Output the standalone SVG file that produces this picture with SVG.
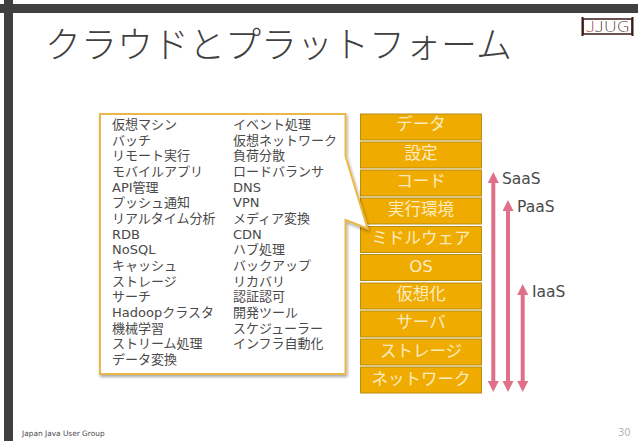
<svg xmlns="http://www.w3.org/2000/svg" width="638" height="442" viewBox="0 0 638 442">
<style>
text{font-family:"DejaVu Sans","Noto Sans CJK JP",sans-serif;fill:#4a4a4a}
.title{font-size:36px;font-family:"Noto Sans CJK JP",sans-serif;font-weight:300;fill:#404040}
.li{font-size:13px}
.box rect{fill:#EFAB00;stroke:#B98C12;stroke-width:1}
.box text{font-size:16.5px;fill:#FCEBC0;text-anchor:middle}
.lab{font-size:15.5px}
.arr{stroke:#E0708A;stroke-width:4;fill:none;marker-start:url(#h);marker-end:url(#h)}
</style>
<defs>
<marker id="h" viewBox="0 0 11 11" refX="1" refY="5.5" markerUnits="userSpaceOnUse" markerWidth="11" markerHeight="11" orient="auto-start-reverse"><path d="M0 0L11 5.5L0 11Z" fill="#E0708A"/></marker>
<filter id="s" x="-5%" y="-5%" width="112%" height="112%"><feDropShadow dx="1" dy="2" stdDeviation="1.500" flood-color="#000" flood-opacity="0.35"/></filter>
</defs>
<rect width="638" height="442" fill="#fff"/>
<g id="frame" fill="#404040"><rect x="0" y="4" width="638" height="9"/><rect x="4" y="0" width="9" height="441"/></g>
<text class="title" x="45" y="58">クラウドとプラットフォーム</text>
<g id="logo"><rect x="583" y="19" width="49" height="15" fill="none" stroke="#3a1a14" stroke-width="1.500"/><path d="M582.500 17V36M632.500 17V36" stroke="#3a1a14" stroke-width="2"/><text x="585.500" y="31.500" font-size="14" textLength="44" lengthAdjust="spacingAndGlyphs" style="fill:#3a1a14;font-family:'Noto Sans CJK JP',sans-serif;font-weight:100"><tspan style="fill:#a03030">J</tspan>JUG</text></g>
<g id="n-data" class="box"><rect x="360.500" y="114" width="121" height="26"/><text x="421" y="130">データ</text></g>
<g id="n-config" class="box"><rect x="360.500" y="142" width="121" height="26"/><text x="421" y="158.500">設定</text></g>
<g id="n-code" class="box"><rect x="360.500" y="170" width="121" height="26"/><text x="421" y="186.500">コード</text></g>
<g id="n-runtime" class="box"><rect x="360.500" y="198" width="121" height="26"/><text x="421" y="214.500">実行環境</text></g>
<g id="n-middleware" class="box"><rect x="360.500" y="226.500" width="121" height="26"/><text x="421" y="243.500">ミドルウェア</text></g>
<g id="n-os" class="box"><rect x="360.500" y="254.500" width="121" height="26"/><text x="421" y="272">OS</text></g>
<g id="n-virt" class="box"><rect x="360.500" y="283" width="121" height="26"/><text x="421" y="299.500">仮想化</text></g>
<g id="n-server" class="box"><rect x="360.500" y="311" width="121" height="26"/><text x="421" y="328">サーバ</text></g>
<g id="n-storage" class="box"><rect x="360.500" y="339" width="121" height="26"/><text x="421" y="356.500">ストレージ</text></g>
<g id="n-network" class="box"><rect x="360.500" y="367" width="121" height="26"/><text x="421" y="385">ネットワーク</text></g>
<g id="callout">
<path d="M100 114H345.500V156L367.500 228.500L345.500 220V374H100Z" fill="#fff" stroke="#E9B84A" stroke-width="2" filter="url(#s)"/>
<g class="li">
<text x="112" y="129">仮想マシン</text>
<text x="112" y="144.700">バッチ</text>
<text x="112" y="160.300">リモート実行</text>
<text x="112" y="176">モバイルアプリ</text>
<text x="112" y="191.700">API管理</text>
<text x="112" y="207.300">プッシュ通知</text>
<text x="112" y="223">リアルタイム分析</text>
<text x="112" y="238.700">RDB</text>
<text x="112" y="254.300">NoSQL</text>
<text x="112" y="270">キャッシュ</text>
<text x="112" y="285.700">ストレージ</text>
<text x="112" y="301.300">サーチ</text>
<text x="112" y="317">Hadoopクラスタ</text>
<text x="112" y="332.700">機械学習</text>
<text x="112" y="348.300">ストリーム処理</text>
<text x="112" y="364">データ変換</text>
<text x="233" y="129">イベント処理</text>
<text x="233" y="144.700">仮想ネットワーク</text>
<text x="233" y="160.300">負荷分散</text>
<text x="233" y="176">ロードバランサ</text>
<text x="233" y="191.700">DNS</text>
<text x="233" y="207.300">VPN</text>
<text x="233" y="223">メディア変換</text>
<text x="233" y="238.700">CDN</text>
<text x="233" y="254.300">ハブ処理</text>
<text x="233" y="270">バックアップ</text>
<text x="233" y="285.700">リカバリ</text>
<text x="233" y="301.300">認証認可</text>
<text x="233" y="317">開発ツール</text>
<text x="233" y="332.700">スケジューラー</text>
<text x="233" y="348.300">インフラ自動化</text>
</g>
</g>
<g id="connectors">
<path class="arr" d="M493.300 182V382"/>
<path class="arr" d="M508 210V382"/>
<path class="arr" d="M522.700 294V382"/>
</g>
<text class="lab" x="502" y="184">SaaS</text>
<text class="lab" x="517" y="212">PaaS</text>
<text class="lab" x="532" y="297">IaaS</text>
<text x="22" y="436" font-size="7.400">Japan Java User Group</text>
<text x="618" y="436" font-size="10" style="fill:#b5b5b5">30</text>
</svg>
